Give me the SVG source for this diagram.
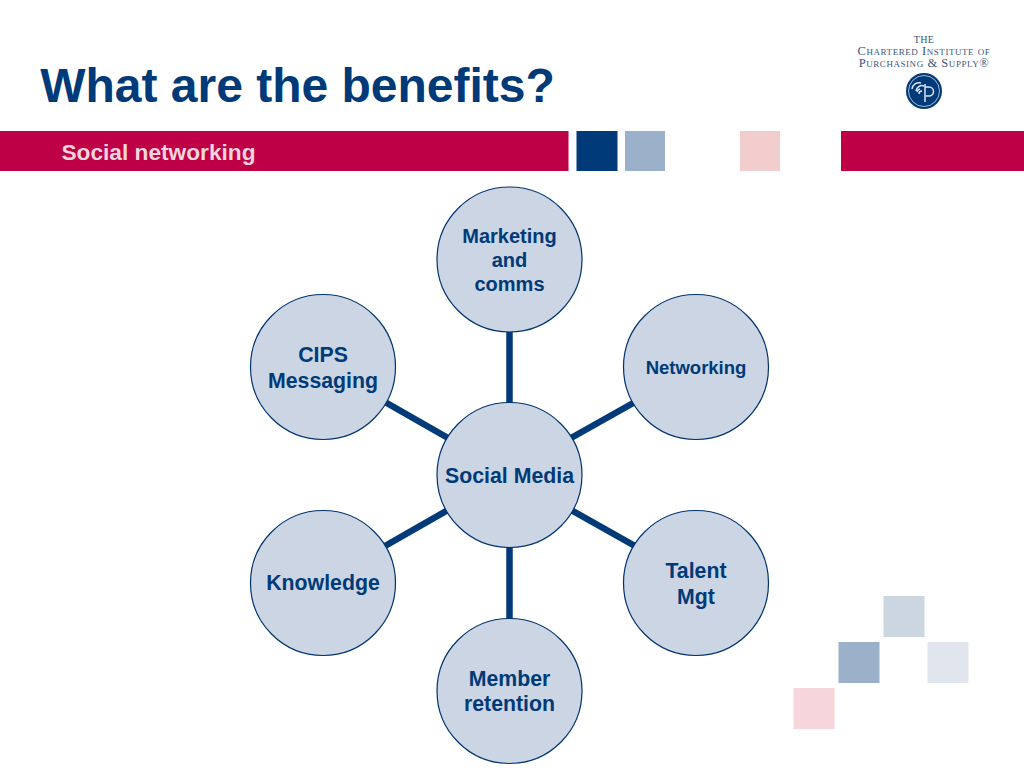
<svg xmlns="http://www.w3.org/2000/svg" width="1024" height="768" viewBox="0 0 1024 768">
<style>
text{font-family:"Liberation Sans",Arial,sans-serif;font-weight:bold;fill:#003a78;text-anchor:middle}
.n{font-size:21.3px}
.m{font-size:20px}
.c{fill:#cbd5e3;stroke:#00336f;stroke-width:1.2}
.l{stroke:#003a78;stroke-width:6.500;fill:none}
.logo{font-family:"Liberation Serif",serif;font-weight:normal;fill:#3a5580;font-variant:small-caps;font-size:12.500px;letter-spacing:.55px}
</style>
<rect width="1024" height="768" fill="#fff"/>
<g id="header">
<rect x="0" y="131" width="568.500" height="40" fill="#be0046"/>
<rect x="841" y="131" width="183" height="40" fill="#be0046"/>
<rect x="576.500" y="131" width="41" height="40" fill="#003a78"/>
<rect x="625" y="131" width="40" height="40" fill="#9bb0c9"/>
<rect x="740" y="131" width="40" height="40" fill="#f2cdcd"/>
<text x="297.500" y="102" style="font-size:48px">What are the benefits?</text>
<text x="158.500" y="159.500" style="font-size:22.700px;fill:#f3d5dc">Social networking</text>
</g>
<g id="logo">
<text class="logo" x="924" y="42.500" style="font-size:10px;letter-spacing:.3px">THE</text>
<text class="logo" x="924" y="54.500">Chartered Institute of</text>
<text class="logo" x="924" y="67">Purchasing &amp; Supply®</text>
<circle cx="924" cy="91" r="18" fill="#003a78"/>
<circle cx="924" cy="91" r="15.500" fill="none" stroke="#cfd8e6" stroke-width="0.800"/>
<path d="M921 83a7 7 0 0 0-9 6M924 86a6 6 0 0 0-8 5M920 89a4 4 0 0 0-3 3M925 84v18M925 87h4a4.500 4.500 0 0 1 0 9h-3M922 91a3 3 0 0 0-3 3" fill="none" stroke="#dfe6f0" stroke-width="1.500"/>
</g>
<g id="decor">
<rect x="883.500" y="596" width="41" height="41" fill="#cbd6e1"/>
<rect x="838.500" y="642" width="41" height="41" fill="#9bb0c9"/>
<rect x="927.500" y="642" width="41" height="41" fill="#e1e6ee"/>
<rect x="793.500" y="688" width="41" height="41" fill="#f6d6da"/>
</g>
<g id="connectors">
<line class="l" x1="509.500" y1="330" x2="509.500" y2="405"/>
<line class="l" x1="509.500" y1="545" x2="509.500" y2="620"/>
<line class="l" x1="571" y1="438" x2="635" y2="402"/>
<line class="l" x1="448" y1="438" x2="385" y2="402"/>
<line class="l" x1="571" y1="510" x2="635" y2="546"/>
<line class="l" x1="448" y1="510" x2="385" y2="546"/>
</g>
<g id="node-center"><circle class="c" cx="509.500" cy="475" r="72.500"/><text class="n" x="509.500" y="483">Social Media</text></g>
<g id="node-marketing"><circle class="c" cx="509.500" cy="259.500" r="72.500"/><text class="m" x="509.500" y="243">Marketing</text><text class="m" x="509.500" y="267">and</text><text class="m" x="509.500" y="291">comms</text></g>
<g id="node-networking"><circle class="c" cx="696" cy="367" r="72.500"/><text x="696" y="374" style="font-size:18.500px">Networking</text></g>
<g id="node-talent"><circle class="c" cx="696" cy="583" r="72.500"/><text class="n" x="696" y="578">Talent</text><text class="n" x="696" y="604">Mgt</text></g>
<g id="node-member"><circle class="c" cx="509.500" cy="691" r="72.500"/><text class="n" x="509.500" y="686">Member</text><text class="n" x="509.500" y="711">retention</text></g>
<g id="node-knowledge"><circle class="c" cx="323" cy="583" r="72.500"/><text class="n" x="323" y="590">Knowledge</text></g>
<g id="node-cips"><circle class="c" cx="323" cy="367" r="72.500"/><text class="n" x="323" y="362">CIPS</text><text class="n" x="323" y="388">Messaging</text></g>
</svg>
